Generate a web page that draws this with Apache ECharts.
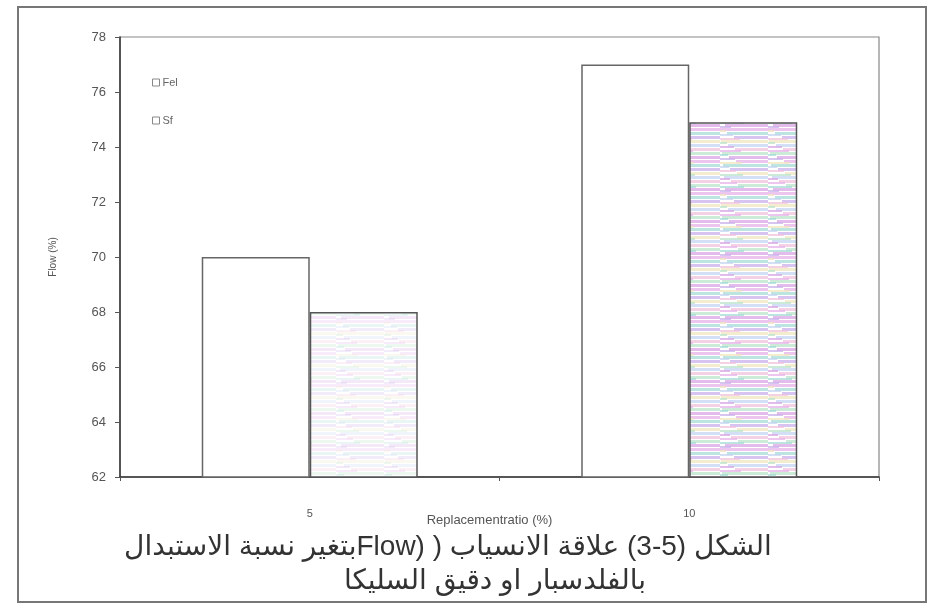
<!DOCTYPE html>
<html lang="ar">
<head>
    <meta charset="UTF-8">
    <title>Flow</title>
    <script src="https://cdn.jsdelivr.net/npm/echarts@6/dist/echarts.min.js"></script>
    <style>
        html, body { margin: 0; padding: 0; background: #fff; }
        #main { width: 929px; height: 609px; }
    </style>
</head>
<body>
<div id="main"></div>
<script>
    // data
    var ratios = ['5', '10'];          // replacement ratio (%)
    var felValues = [70, 77];          // Fel
    var sfValues = [68, 74.9];         // Sf
    var yTicks = { min: 62, max: 78, step: 2 };
    var seriesNames = ['Fel', 'Sf'];
    // figure number forced left-to-right so it reads 3-5
    var captionLine1 = 'الشكل (\u202D3-5\u202C) علاقة الانسياب ( (Flowبتغير نسبة الاستبدال';
    var captionLine2 = 'بالفلدسبار او دقيق السليكا';

    // canvas text is LTR by default, wrap the arabic in an RTL embedding
    function rtl(s) { return '\u202B' + s + '\u202C'; }

    // the Sf bars look like a noisy pastel print, fake it with stripes
    function stripes(alpha) {
        var cols = ['#e7b3ea', '#a6dbd6', '#cbb0ec', '#efe6bf', '#c3d4f0', '#f0c2dc', '#b9e3c9', '#d9a6e6'];
        var c = document.createElement('canvas');
        c.width = 48; c.height = 64;
        var g = c.getContext('2d');
        g.fillStyle = '#fff';
        g.fillRect(0, 0, 48, 64);
        g.globalAlpha = alpha;
        for (var i = 0; i < 16; i++) {
            g.fillStyle = cols[i % cols.length];
            var off = (i * 7) % 20;
            g.fillRect(off, i * 4, 48 - off + (i % 3) * 5, 3);
            g.fillStyle = cols[(i + 3) % cols.length];
            g.fillRect(0, i * 4 + 2, off + 6, 2);
        }
        return c;
    }

    var chart = echarts.init(document.getElementById('main'));
    var lineFont = '"Liberation Sans", "DejaVu Sans", sans-serif';

    var option = {
        backgroundColor: '#fff',
        animation: false,
        grid: {
            left: 120, right: 50, top: 37, bottom: 132,
            show: true, borderColor: '#888', borderWidth: 1.2
        },
        legend: {
            orient: 'vertical',
            left: 147, top: 72,
            itemGap: 27,
            itemWidth: 7, itemHeight: 7,
            icon: 'rect',
            textStyle: { fontSize: 11, color: '#666', fontFamily: lineFont, padding: [0, 0, 0, -2] },
            data: [
                { name: seriesNames[0], itemStyle: { color: '#fff', borderColor: '#888', borderWidth: 1 } },
                { name: seriesNames[1], itemStyle: { color: '#fff', borderColor: '#888', borderWidth: 1 } }
            ]
        },
        xAxis: {
            type: 'category',
            data: ratios,
            axisLine: { lineStyle: { color: '#333', width: 1.5 } },
            axisTick: { show: true, length: 4, lineStyle: { color: '#555' } },
            axisLabel: { margin: 31, fontSize: 11, color: '#555', fontFamily: lineFont },
            name: 'Replacementratio (%)',
            nameLocation: 'middle',
            nameGap: 37,
            nameMoveOverlap: false,
            nameTextStyle: { fontSize: 13, color: '#555', fontFamily: lineFont, padding: [0, 20, 0, 0] }
        },
        yAxis: {
            type: 'value',
            min: yTicks.min, max: yTicks.max, interval: yTicks.step,
            axisLine: { show: true, lineStyle: { color: '#333', width: 1.5 } },
            axisTick: { show: true, length: 5, lineStyle: { color: '#555' } },
            splitLine: { show: false },
            axisLabel: { margin: 14, fontSize: 13, color: '#555', fontFamily: lineFont },
            name: 'Flow (%)',
            nameLocation: 'middle',
            nameGap: 62,
            nameMoveOverlap: false,
            nameTextStyle: { fontSize: 10, color: '#555', fontFamily: lineFont }
        },
        series: [
            {
                name: seriesNames[0],
                type: 'bar',
                data: felValues,
                barWidth: 108,
                barGap: '0%',
                itemStyle: { color: '#fff', borderColor: '#666', borderWidth: 1.5 }
            },
            {
                name: seriesNames[1],
                type: 'bar',
                data: sfValues.map(function (v, i) {
                    return {
                        value: v,
                        itemStyle: { color: { image: stripes(i === 0 ? 0.25 : 0.75), repeat: 'repeat' } }
                    };
                }),
                barWidth: 108,
                barGap: '0%',
                itemStyle: { borderColor: '#555', borderWidth: 1.5 }
            }
        ],
        graphic: [
            {
                type: 'rect', silent: true,
                shape: { x: 18, y: 7, width: 908, height: 595 },
                style: { fill: null, stroke: '#777', lineWidth: 2 }
            },
            {
                type: 'text', silent: true,
                x: 448, y: 547,
                style: {
                    text: rtl(captionLine1), fontSize: 28, fill: '#333',
                    fontFamily: lineFont, align: 'center', verticalAlign: 'middle'
                }
            },
            {
                type: 'text', silent: true,
                x: 495, y: 581,
                style: {
                    text: rtl(captionLine2), fontSize: 28, fill: '#333',
                    fontFamily: lineFont, align: 'center', verticalAlign: 'middle'
                }
            }
        ]
    };

    chart.setOption(option);
</script>
</body>
</html>
